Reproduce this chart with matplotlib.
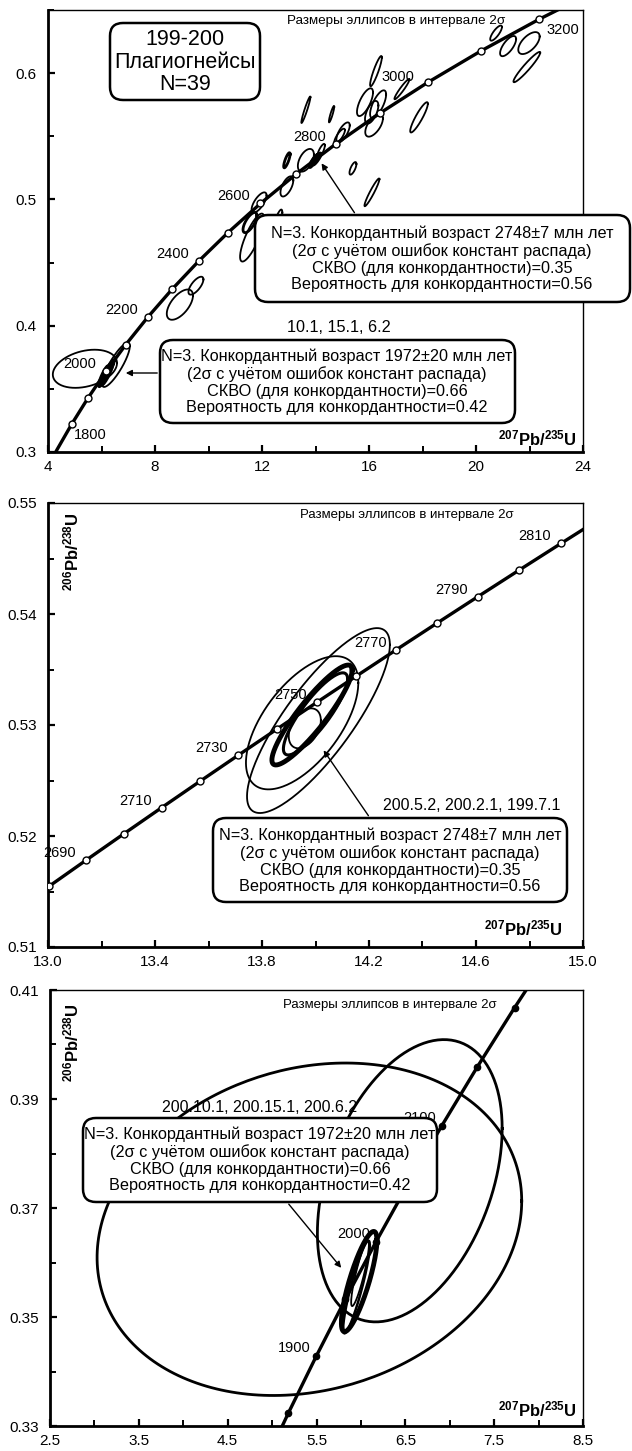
import numpy as np
import matplotlib
matplotlib.use("Agg")
import matplotlib.pyplot as plt
from matplotlib.patches import FancyBboxPatch, FancyArrowPatch
from matplotlib.ticker import FixedLocator, FormatStrFormatter

plt.rcParams['font.family'] = ['Liberation Sans', 'DejaVu Sans']
plt.rcParams['mathtext.fontset'] = 'custom'
plt.rcParams['mathtext.rm'] = 'Liberation Sans'
plt.rcParams['mathtext.bf'] = 'Liberation Sans:bold'

# U decay constants, 1/yr
L238 = 1.55125e-10
L235 = 9.8485e-10

# ---- panel 1: all grains ----
p1_xticks = [4, 8, 12, 16, 20, 24]
p1_yticks = [0.3, 0.4, 0.5, 0.6]
p1_line_ages = [1600, 1700, 1800, 1900, 2000, 2100, 2200, 2300, 2400, 2500, 2600,
                2700, 2800, 2900, 3000, 3100, 3200, 3300]
p1_marker_ages = [1800, 1900, 2000, 2100, 2200, 2300, 2400, 2500, 2600, 2700,
                  2800, 2900, 3000, 3100, 3200]
p1_label_ages = [1800, 2000, 2200, 2400, 2600, 2800, 3000, 3200]
# ellipses: 207/235, half-width, 206/238, half-height, rho
p1_x = [5.38, 6.54, 6.20, 6.08, 6.30, 8.93, 9.53, 11.63, 11.89, 11.55, 12.50, 12.93,
        13.64, 12.93, 13.64, 13.95, 14.05, 13.90, 14.60, 15.03, 15.40, 16.11, 16.26,
        15.85, 16.34, 16.10, 16.19, 17.23, 17.87, 20.75, 21.20, 21.98, 21.90, 14.20, 14.90]
p1_sx = [1.20, 0.52, 0.22, 0.18, 0.18, 0.49, 0.28, 0.45, 0.28, 0.26, 0.26, 0.24,
         0.30, 0.12, 0.17, 0.15, 0.15, 0.12, 0.10, 0.25, 0.13, 0.28, 0.22,
         0.30, 0.30, 0.25, 0.33, 0.28, 0.33, 0.22, 0.30, 0.40, 0.50, 0.15, 0.20]
p1_y = [0.3659, 0.369, 0.362, 0.360, 0.366, 0.4167, 0.4317, 0.4698, 0.4976, 0.4817, 0.476,
        0.5103, 0.531, 0.531, 0.571, 0.531, 0.532, 0.5295, 0.5675, 0.553, 0.5246, 0.5056,
        0.6016, 0.577, 0.5754, 0.569, 0.5587, 0.5873, 0.565, 0.6317, 0.6214, 0.6238,
        0.6048, 0.538, 0.550]
p1_sy = [0.0151, 0.0175, 0.009, 0.008, 0.007, 0.012, 0.0071, 0.019, 0.008, 0.008, 0.016,
         0.008, 0.009, 0.006, 0.0105, 0.0045, 0.0045, 0.004, 0.0065, 0.008, 0.005, 0.011,
         0.012, 0.011, 0.011, 0.009, 0.009, 0.008, 0.012, 0.006, 0.008, 0.0087, 0.012,
         0.006, 0.006]
p1_rho = [0.30, 0.85, 0.90, 0.90, 0.90, 0.60, 0.70, 0.80, 0.70, 0.70, 0.85, 0.60,
          0.50, 0.80, 0.95, 0.90, 0.90, 0.90, 0.90, 0.70, 0.70, 0.95, 0.90,
          0.70, 0.70, 0.60, 0.60, 0.95, 0.90, 0.80, 0.70, 0.60, 0.95, 0.80, 0.80]
p1_lw = [1.3, 1.3, 2.5, 2.5, 2.0, 1.3, 1.3, 1.3, 1.3, 2.0, 1.3, 1.3,
         1.3, 2.0, 1.3, 2.5, 2.5, 2.5, 1.3, 1.3, 1.3, 1.3, 1.3,
         1.3, 1.3, 1.3, 1.3, 1.3, 1.3, 1.3, 1.3, 1.3, 1.3, 1.3, 1.3]

# ---- panel 2: 2748 Ma group ----
p2_xticks = [13.0, 13.4, 13.8, 14.2, 14.6, 15.0]
p2_yticks = [0.51, 0.52, 0.53, 0.54, 0.55]
p2_line_ages = [2660, 2670, 2680, 2690, 2700, 2710, 2720, 2730, 2740, 2750, 2760,
                2770, 2780, 2790, 2800, 2810, 2820, 2830]
p2_marker_ages = [2680, 2690, 2700, 2710, 2720, 2730, 2740, 2750, 2760, 2770,
                  2780, 2790, 2800, 2810]
p2_label_ages = [2690, 2710, 2730, 2750, 2770, 2790, 2810]
p2_x = [14.011, 13.95, 13.987, 14.00, 13.96]
p2_sx = [0.267, 0.21, 0.15, 0.12, 0.06]
p2_y = [0.5304, 0.5302, 0.5309, 0.5310, 0.5297]
p2_sy = [0.00833, 0.0060, 0.0045, 0.0037, 0.0018]
p2_rho = [0.82, 0.60, 0.90, 0.85, 0.40]
p2_lw = [1.3, 1.3, 3.5, 2.2, 1.3]

# ---- panel 3: 1972 Ma group ----
p3_xticks = [2.5, 3.5, 4.5, 5.5, 6.5, 7.5, 8.5]
p3_yticks = [0.33, 0.35, 0.37, 0.39, 0.41]
p3_line_ages = [1750, 1800, 1850, 1900, 1950, 2000, 2050, 2100, 2150, 2200, 2250]
p3_marker_ages = [1850, 1900, 1950, 2000, 2050, 2100, 2150, 2200]
p3_label_ages = [1900, 2000, 2100]
p3_x = [5.42, 6.55, 5.98, 5.95, 5.99]
p3_sx = [2.39, 1.04, 0.20, 0.15, 0.10]
p3_y = [0.3661, 0.375, 0.3565, 0.3555, 0.358]
p3_sy = [0.0305, 0.0259, 0.0092, 0.0085, 0.006]
p3_rho = [0.17, 0.37, 0.82, 0.90, 0.88]
p3_lw = [2.0, 2.0, 3.5, 1.8, 1.3]

W, H = 632, 1451
fig = plt.figure(figsize=(W / 100, H / 100), dpi=100)


def add_axes(l, t, r, b):
    return fig.add_axes([l / W, 1 - b / H, (r - l) / W, (b - t) / H])


def concordia(ages):
    t = np.array(ages) * 1e6
    return np.exp(L235 * t) - 1, np.exp(L238 * t) - 1


def ellipse(ax, x, sx, y, sy, rho, lw):
    a = np.linspace(0, 2 * np.pi, 240)
    cov = np.array([[sx * sx, rho * sx * sy], [rho * sx * sy, sy * sy]])
    L = np.linalg.cholesky(cov)
    pts = L @ np.vstack([np.cos(a), np.sin(a)])
    ax.plot(x + pts[0], y + pts[1], color='k', lw=lw, zorder=2)


def ftext(x, y, s, **kw):
    fig.text(x / W, 1 - y / H, s, **kw)


def box(l, t, r, b, z=5):
    p = FancyBboxPatch((l / 100, (H - b) / 100), (r - l) / 100, (b - t) / 100,
                       boxstyle='round,pad=0,rounding_size=0.13',
                       transform=fig.dpi_scale_trans, fc='white', ec='k', lw=1.8, zorder=z)
    fig.add_artist(p)


def arrow(x0, y0, x1, y1):
    a = FancyArrowPatch((x0 / 100, (H - y0) / 100), (x1 / 100, (H - y1) / 100),
                        transform=fig.dpi_scale_trans, arrowstyle='-|>',
                        mutation_scale=9, color='k', lw=1.0, zorder=6)
    fig.add_artist(a)


def style_axes(ax, xlim, ylim, xticks, yticks, xfmt, yfmt):
    ax.set_xlim(*xlim)
    ax.set_ylim(*ylim)
    ax.xaxis.set_major_locator(FixedLocator(xticks))
    ax.yaxis.set_major_locator(FixedLocator(yticks))
    xt = np.array(xticks)
    yt = np.array(yticks)
    xm = list((xt[:-1] + xt[1:]) / 2)
    ym = list((yt[:-1] + yt[1:]) / 2) + [yt[-1] + (yt[1] - yt[0]) / 2]
    ax.xaxis.set_minor_locator(FixedLocator(xm))
    ax.yaxis.set_minor_locator(FixedLocator(ym))
    ax.xaxis.set_major_formatter(FormatStrFormatter(xfmt))
    ax.yaxis.set_major_formatter(FormatStrFormatter(yfmt))
    ax.tick_params(which='major', direction='in', length=5, width=1.6, labelsize=11)
    ax.tick_params(which='minor', direction='in', length=4, width=1.4)
    ax.tick_params(axis='x', pad=6)
    ax.tick_params(axis='y', pad=8)
    for s in ['left', 'bottom']:
        ax.spines[s].set_linewidth(2.0)
    for s in ['top', 'right']:
        ax.spines[s].set_linewidth(1.0)


def draw_concordia(ax, line_ages, marker_ages, label_ages, filled, offsets, lw=2.4):
    cx, cy = concordia(line_ages)
    ax.plot(cx, cy, color='k', lw=lw, zorder=3)
    mx, my = concordia(marker_ages)
    ax.plot(mx, my, 'o', ms=5 if not filled else 4.5, mfc='k' if filled else 'white',
            mec='k', mew=1.0, zorder=4)
    lx, ly = concordia(label_ages)
    for age, x, y in zip(label_ages, lx, ly):
        dx, dy, ha = offsets.get(age, offsets['default'])
        ax.annotate(str(age), (x, y), xytext=(dx * 0.72, dy * 0.72),
                    textcoords='offset points', ha=ha, va='center',
                    fontsize=10.5, zorder=4)


xlab = r'$\mathbf{^{207}Pb/^{235}U}$'
ylab = r'$\mathbf{^{206}Pb/^{238}U}$'
size_note = 'Размеры эллипсов в интервале 2σ'
box_fs = 11.7
box_ls = 1.15

# ---------- top panel ----------
ax1 = add_axes(48, 10, 583, 452)
style_axes(ax1, (4, 24), (0.3, 0.65), p1_xticks, p1_yticks, '%g', '%.1f')
for i in range(len(p1_x)):
    ellipse(ax1, p1_x[i], p1_sx[i], p1_y[i], p1_sy[i], p1_rho[i], p1_lw[i])
draw_concordia(ax1, p1_line_ages, p1_marker_ages, p1_label_ages, False,
               {'default': (-10, 7, 'right'), 1800: (2, -11, 'left'),
                3200: (7, -11, 'left'), 3000: (-13, 5, 'right')})
ftext(287, 21, size_note, fontsize=9.7, va='center')
ftext(577, 438, xlab, fontsize=12, ha='right', va='center')
ftext(287, 328, '10.1, 15.1, 6.2', fontsize=11.7, va='center')

box(110, 23, 260, 100)
ftext(185, 62, '199-200\nПлагиогнейсы\nN=39', fontsize=15.5, ha='center', va='center',
      linespacing=1.12, zorder=7)

box(255, 215, 630, 302)
ftext(442, 259, 'N=3. Конкордантный возраст 2748±7 млн лет\n'
      '(2σ с учётом ошибок констант распада)\n'
      'СКВО (для конкордантности)=0.35\n'
      'Вероятность для конкордантности=0.56',
      fontsize=box_fs, ha='center', va='center', linespacing=box_ls, zorder=7)
arrow(356, 215, 320, 161)

box(160, 340, 515, 423)
ftext(337, 382, 'N=3. Конкордантный возраст 1972±20 млн лет\n'
      '(2σ с учётом ошибок констант распада)\n'
      'СКВО (для конкордантности)=0.66\n'
      'Вероятность для конкордантности=0.42',
      fontsize=box_fs, ha='center', va='center', linespacing=box_ls, zorder=7)
arrow(160, 373, 123, 373)

# ---------- middle panel ----------
ax2 = add_axes(48, 503, 583, 947)
style_axes(ax2, (13.0, 15.0), (0.51, 0.55), p2_xticks, p2_yticks, '%.1f', '%.2f')
for i in range(len(p2_x)):
    ellipse(ax2, p2_x[i], p2_sx[i], p2_y[i], p2_sy[i], p2_rho[i], p2_lw[i])
draw_concordia(ax2, p2_line_ages, p2_marker_ages, p2_label_ages, False,
               {'default': (-10, 7, 'right')})
ftext(300, 515, size_note, fontsize=9.5, va='center')
ftext(563, 928, xlab, fontsize=12, ha='right', va='center')
ftext(71, 512, ylab, fontsize=12, ha='center', va='top', rotation=90)
ftext(383, 805, '200.5.2, 200.2.1, 199.7.1', fontsize=11.5, va='center')

box(213, 818, 567, 902)
ftext(390, 861, 'N=3. Конкордантный возраст 2748±7 млн лет\n'
      '(2σ с учётом ошибок констант распада)\n'
      'СКВО (для конкордантности)=0.35\n'
      'Вероятность для конкордантности=0.56',
      fontsize=box_fs, ha='center', va='center', linespacing=box_ls, zorder=7)
arrow(370, 818, 322, 748)

# ---------- bottom panel ----------
ax3 = add_axes(50, 990, 583, 1426)
style_axes(ax3, (2.5, 8.5), (0.33, 0.41), p3_xticks, p3_yticks, '%.1f', '%.2f')
for i in range(len(p3_x)):
    ellipse(ax3, p3_x[i], p3_sx[i], p3_y[i], p3_sy[i], p3_rho[i], p3_lw[i])
draw_concordia(ax3, p3_line_ages, p3_marker_ages, p3_label_ages, True,
               {'default': (-6, 8, 'right')})
ftext(283, 1005, size_note, fontsize=9.5, va='center')
ftext(577, 1409, xlab, fontsize=12, ha='right', va='center')
ftext(71, 1003, ylab, fontsize=12, ha='center', va='top', rotation=90)
ftext(162, 1108, '200.10.1, 200.15.1, 200.6.2', fontsize=11.5, va='center')

box(83, 1118, 437, 1202)
ftext(260, 1160, 'N=3. Конкордантный возраст 1972±20 млн лет\n'
      '(2σ с учётом ошибок констант распада)\n'
      'СКВО (для конкордантности)=0.66\n'
      'Вероятность для конкордантности=0.42',
      fontsize=box_fs, ha='center', va='center', linespacing=box_ls, zorder=7)
arrow(287, 1202, 343, 1270)

fig.savefig('out.png', dpi=100)
